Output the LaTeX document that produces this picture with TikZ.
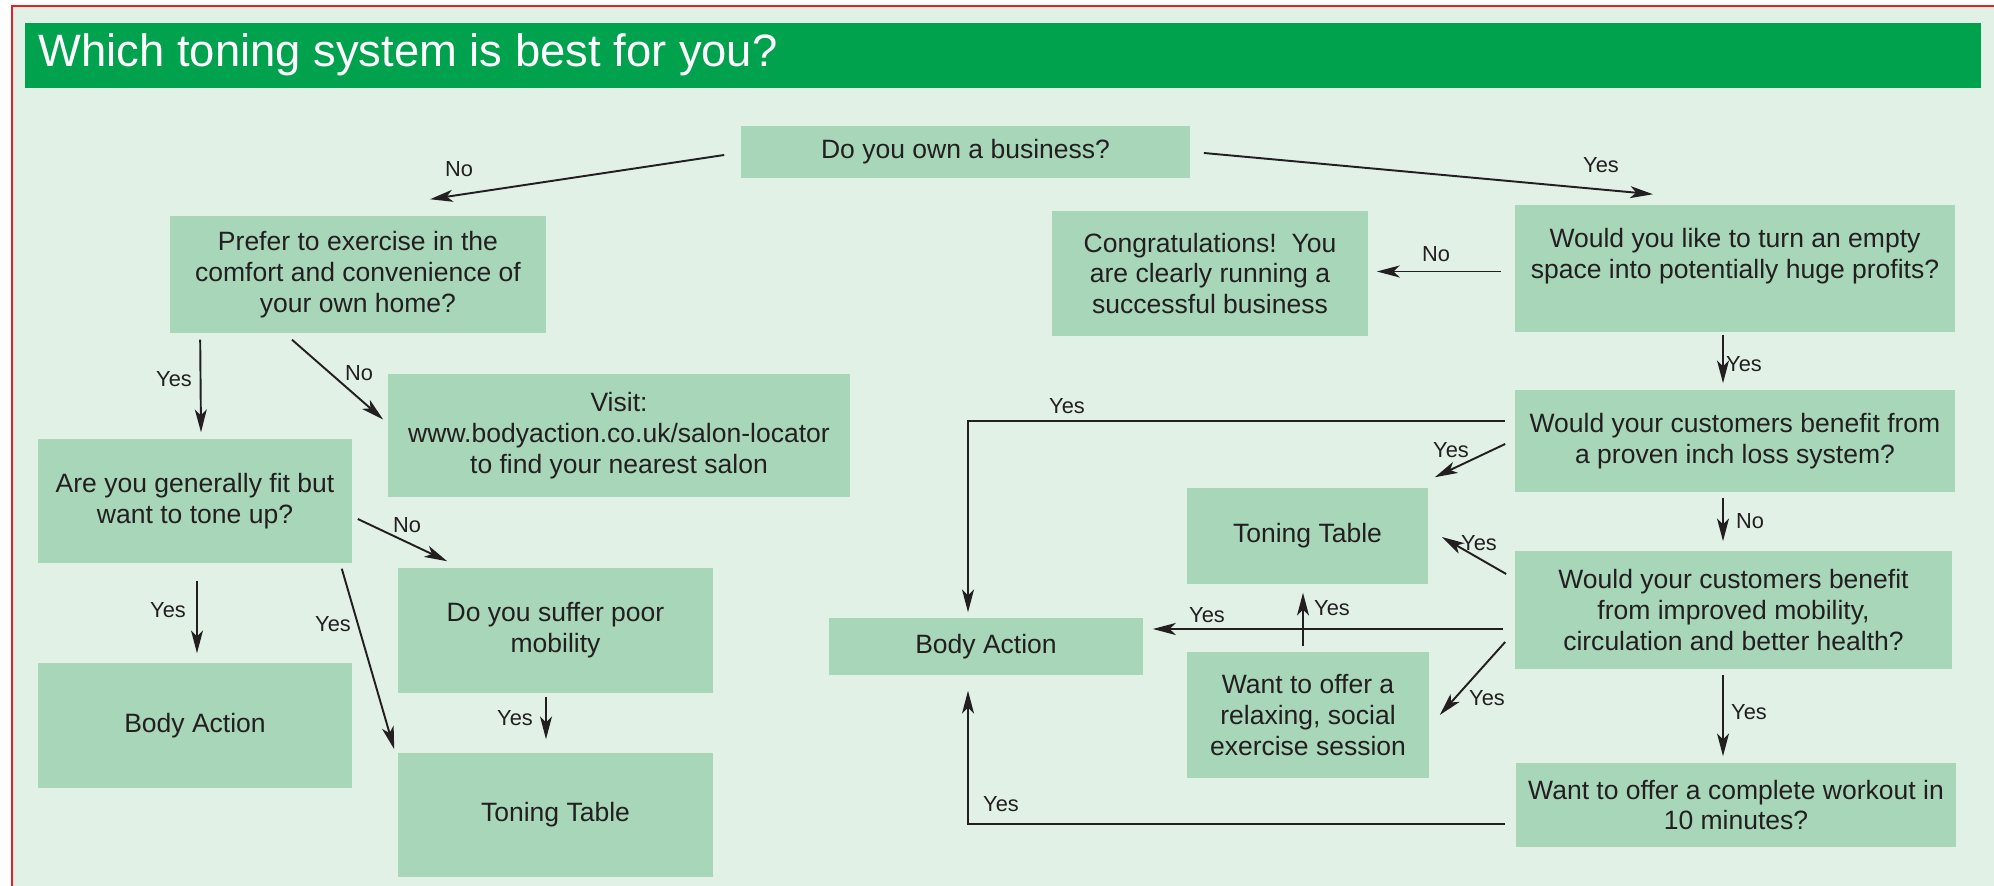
\documentclass[tikz,border=0pt]{standalone}
\usepackage{fontspec}
\setmainfont{Liberation Sans}
\usetikzlibrary{arrows.meta,calc}
\definecolor{pagegreen}{HTML}{E1F1E6}
\definecolor{boxgreen}{HTML}{A8D6B9}
\definecolor{bargreen}{HTML}{00A24E}
\definecolor{framered}{HTML}{ED1C24}
\definecolor{ink}{HTML}{231F20}
\tikzset{
  q/.style={rectangle, fill=boxgreen, text=ink, align=center, inner sep=0pt,
    font=\fontsize{7.54}{8.8}\selectfont},
  ans/.style={text=ink, inner sep=0pt, font=\fontsize{6.2}{7}\selectfont},
  arr/.style={-{Stealth[length=6.5pt,width=3.4pt,inset=1.7pt]}, draw=ink, line width=0.55pt},
  arrlong/.style={arr, line width=0.75pt},
}
\begin{document}
\begin{tikzpicture}[x=0.01cm,y=-0.01cm]
  \useasboundingbox (0,0) rectangle (1994,886);
  % page and title
  \fill[pagegreen] (12,6) rectangle (1994,886);
  \draw[framered, line width=0.6pt] (12,886) -- (12,6) -- (1994,6);
  \fill[bargreen] (25,23) rectangle (1981,88);
  \node[anchor=base west, text=white, inner sep=0pt, font=\fontsize{12.9}{15}\selectfont]
    (title) at (38,67) {Which toning system is best for you?};
  % questions and answers
  \node[q, minimum width=4.49cm, minimum height=0.52cm] (own) at (965.5,152) {Do you own a business?};
  \node[q, minimum width=3.76cm, minimum height=1.17cm] (prefer) at (358,274.5) {Prefer to exercise in the\\comfort and convenience of\\your own home?};
  \node[q, minimum width=3.16cm, minimum height=1.25cm] (congrats) at (1210,273.5) {Congratulations!\ \ You\\are clearly running a\\successful business};
  \node[q, minimum width=4.40cm, minimum height=1.27cm] (space) at (1735,268.5) {Would you like to turn an empty\\space into potentially huge profits?\\\phantom{x}};
  \node[q, minimum width=4.62cm, minimum height=1.23cm] (visit) at (619,435.5) {Visit:\\www.bodyaction.co.uk/salon-locator\\to find your nearest salon};
  \node[q, minimum width=3.14cm, minimum height=1.24cm] (fit) at (195,501) {Are you generally fit but\\want to tone up?};
  \node[q, minimum width=4.40cm, minimum height=1.02cm] (inch) at (1735,441) {Would your customers benefit from\\a proven inch loss system?};
  \node[q, minimum width=2.41cm, minimum height=0.96cm] (tableR) at (1307.5,536) {Toning Table};
  \node[q, minimum width=4.37cm, minimum height=1.18cm] (health) at (1733.5,610) {Would your customers benefit\\from improved mobility,\\circulation and better health?};
  \node[q, minimum width=3.15cm, minimum height=1.25cm] (suffer) at (555.5,630.5) {Do you suffer poor\\mobility};
  \node[q, minimum width=3.14cm, minimum height=1.25cm] (bodyL) at (195,725.5) {Body Action};
  \node[q, minimum width=3.14cm, minimum height=0.57cm] (bodyR) at (986,646.5) {Body Action};
  \node[q, minimum width=2.42cm, minimum height=1.26cm] (relax) at (1308,715) {Want to offer a\\relaxing, social\\exercise session};
  \node[q, minimum width=3.15cm, minimum height=1.24cm] (tableL) at (555.5,815) {Toning Table};
  \node[q, minimum width=4.40cm, minimum height=0.84cm] (workout) at (1736,805) {Want to offer a complete workout in\\10 minutes?};
  % connectors
  \draw[arr] ($(own.west)+(-16,3)$) -- ($(prefer.north)+(72,-16)$);
  \draw[arr] ($(own.east)+(13,1)$) -- ($(space.north)+(-82,-10)$);
  \draw[arr] ($(space.west)+(-13,3)$) -- ($(congrats.east)+(8,-2)$);
  \draw[arr] ($(space.south)+(-12,2)$) -- ($(inch.north)+(-12,-6)$);
  \draw[arrlong] ($(inch.west)+(-9,-20)$) -| ($(bodyR.north)+(-18,-5)$);
  \draw[arr] ($(inch.west)+(-9,3)$) -- ($(tableR.north east)+(6,-10)$);
  \draw[arr] ($(inch.south)+(-12,5)$) -- ($(health.north)+(-10.5,-9)$);
  \draw[arr] ($(health.west)+(-8,-36)$) -- ($(tableR.east)+(13,1)$);
  \draw[arrlong] ($(health.west)+(-11,19)$) -- ($(bodyR.east)+(9,-17.5)$);
  \draw[arr] ($(relax.north)+(-5,-5)$) -- ($(tableR.south)+(-4.5,8)$);
  \draw[arr] ($(health.west)+(-9,32)$) -- ($(relax.east)+(10,0)$);
  \draw[arr] ($(health.south)+(-10.5,5)$) -- ($(workout.north)+(-13,-6)$);
  \draw[arrlong] ($(workout.west)+(-10,19)$) -| ($(bodyR.south)+(-18,15)$);
  \draw[arr] ($(prefer.south west)+(31,6)$) -- ($(fit.north)+(6,-6)$);
  \draw[arr] ($(prefer.south)+(-66,6)$) -- ($(visit.west)+(-4,-16)$);
  \draw[arr] ($(fit.south)+(2,17)$) -- ($(bodyL.north)+(2,-9)$);
  \draw[arr] ($(fit.east)+(5,18)$) -- ($(suffer.north west)+(50,-6)$);
  \draw[arr] ($(fit.south east)+(-11,5)$) -- ($(tableL.north west)+(-3,-3)$);
  \draw[arr] ($(suffer.south)+(-9.5,3)$) -- ($(tableL.north)+(-9.5,-13)$);
  % labels
  \node[ans] (noOwn) at (459,169) {No};
  \node[ans] (yesOwn) at (1601,165) {Yes};
  \node[ans] (noSpace) at (1436,254) {No};
  \node[ans] (yesSpace) at (1744,364) {Yes};
  \node[ans] (yesInchA) at (1067,406) {Yes};
  \node[ans] (yesInchB) at (1451,450) {Yes};
  \node[ans] (noInch) at (1750,521) {No};
  \node[ans] (yesHealthA) at (1479,543) {Yes};
  \node[ans] (yesHealthB) at (1207,615) {Yes};
  \node[ans] (yesRelax) at (1332,608) {Yes};
  \node[ans] (yesHealthC) at (1487,698) {Yes};
  \node[ans] (yesHealthD) at (1749,712) {Yes};
  \node[ans] (yesWorkout) at (1001,804) {Yes};
  \node[ans] (yesPrefer) at (174,379) {Yes};
  \node[ans] (noPrefer) at (359,373) {No};
  \node[ans] (yesFitA) at (168,610) {Yes};
  \node[ans] (noFit) at (407,525) {No};
  \node[ans] (yesFitB) at (333,624) {Yes};
  \node[ans] (yesSuffer) at (515,718) {Yes};
\end{tikzpicture}
\end{document}
